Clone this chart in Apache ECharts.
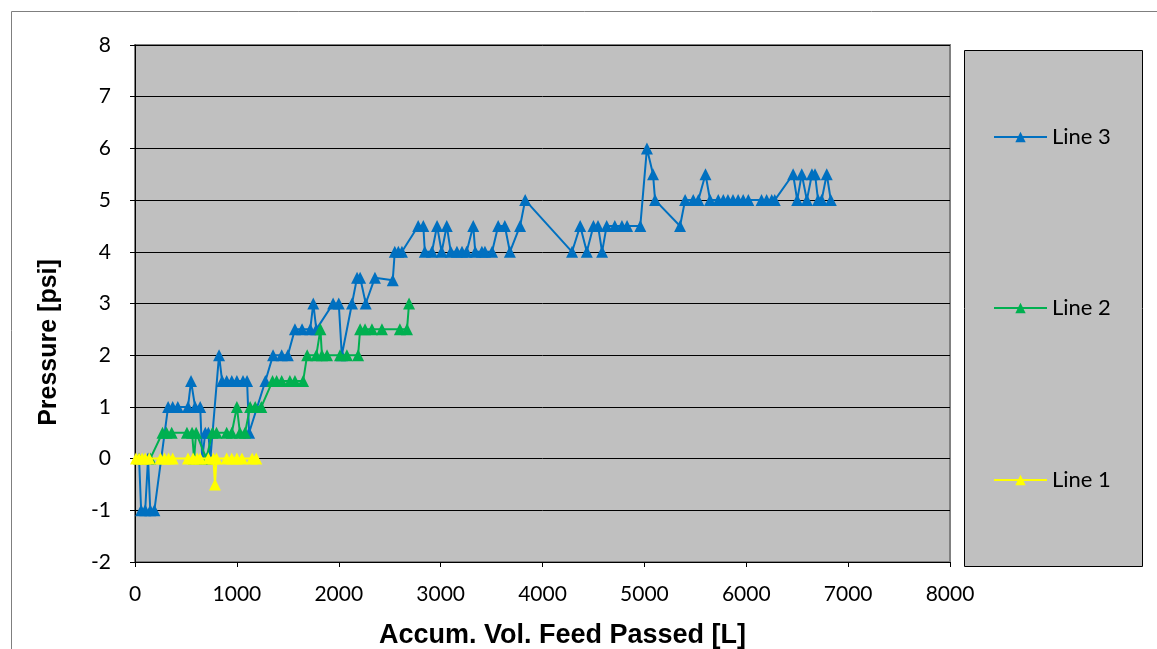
<!DOCTYPE html>
<html>
<head>
<meta charset="utf-8">
<title>Pressure vs Accumulated Feed Volume</title>
<script src="https://cdn.jsdelivr.net/npm/echarts@6/dist/echarts.min.js"></script>
<style>
  html, body { margin: 0; padding: 0; background: #ffffff; }
  #chart { width: 1157px; height: 649px; }
</style>
</head>
<body>
<div id="chart"></div>
<script>
// Axis ticks
const xTicks = [0, 1000, 2000, 3000, 4000, 5000, 6000, 7000, 8000];
const yTicks = [-2, -1, 0, 1, 2, 3, 4, 5, 6, 7, 8];

const seriesNames = ['Line 3', 'Line 2', 'Line 1'];

// Line 3: [accumulated volume L, pressure psi]
const line3 = [
  [40, 0], [60, -1], [100, -1], [128, 0], [150, -1], [190, -1],
  [325, 1], [370, 1], [420, 1], [520, 1], [550, 1.5], [590, 1], [640, 1],
  [660, 0], [690, 0.5], [720, 0.5], [740, 0], [825, 2], [855, 1.5],
  [900, 1.5], [950, 1.5], [1000, 1.5], [1060, 1.5], [1100, 1.5], [1120, 0.5],
  [1280, 1.5], [1355, 2], [1440, 2], [1500, 2], [1570, 2.5], [1640, 2.5],
  [1720, 2.5], [1750, 3], [1780, 2.5], [1945, 3], [2000, 3], [2030, 2],
  [2130, 3], [2180, 3.5], [2210, 3.5], [2265, 3], [2355, 3.5], [2530, 3.45],
  [2550, 4], [2585, 4], [2620, 4], [2780, 4.5], [2830, 4.5], [2845, 4],
  [2915, 4], [2965, 4.5], [3010, 4], [3060, 4.5], [3100, 4], [3160, 4],
  [3210, 4], [3255, 4], [3320, 4.5], [3340, 4], [3405, 4], [3435, 4],
  [3505, 4], [3565, 4.5], [3630, 4.5], [3680, 4], [3780, 4.5], [3830, 5],
  [4290, 4], [4370, 4.5], [4435, 4], [4500, 4.5], [4545, 4.5], [4585, 4],
  [4630, 4.5], [4710, 4.5], [4780, 4.5], [4830, 4.5], [4960, 4.5], [5025, 6],
  [5085, 5.5], [5105, 5], [5350, 4.5], [5400, 5], [5480, 5], [5530, 5],
  [5600, 5.5], [5645, 5], [5725, 5], [5775, 5], [5820, 5], [5870, 5],
  [5920, 5], [5970, 5], [6020, 5], [6150, 5], [6200, 5], [6250, 5],
  [6280, 5], [6460, 5.5], [6500, 5], [6545, 5.5], [6595, 5], [6645, 5.5],
  [6675, 5.5], [6705, 5], [6740, 5], [6790, 5.5], [6830, 5]
];

// Line 2
const line2 = [
  [150, 0], [270, 0.5], [310, 0.5], [360, 0.5], [510, 0.5], [560, 0.5],
  [580, 0], [600, 0.5], [700, 0], [760, 0.5], [800, 0.5], [900, 0.5],
  [950, 0.5], [1000, 1], [1030, 0.5], [1080, 0.5], [1130, 1], [1180, 1],
  [1240, 1], [1350, 1.5], [1390, 1.5], [1440, 1.5], [1520, 1.5], [1570, 1.5],
  [1650, 1.5], [1690, 2], [1780, 2], [1820, 2.5], [1835, 2], [1885, 2],
  [2012, 2], [2080, 2], [2190, 2], [2210, 2.5], [2258, 2.5], [2326, 2.5],
  [2424, 2.5], [2600, 2.5], [2670, 2.5], [2690, 3]
];

// Line 1
const line1 = [
  [10, 0], [40, 0], [70, 0], [100, 0], [140, 0], [250, 0], [290, 0],
  [330, 0], [370, 0], [520, 0], [570, 0], [610, 0], [640, 0], [720, 0],
  [770, 0], [785, -0.5], [800, 0], [900, 0], [950, 0], [1000, 0],
  [1050, 0], [1150, 0], [1190, 0]
];

const colors = { 'Line 3': '#0070c0', 'Line 2': '#00b050', 'Line 1': '#ffff00' };
const dataByName = { 'Line 3': line3, 'Line 2': line2, 'Line 1': line1 };

const tickFont = 'Lato, "DejaVu Sans", sans-serif';
const titleFont = '"Liberation Sans", Arial, sans-serif';

const chart = echarts.init(document.getElementById('chart'), null, { renderer: 'canvas' });

// vertical centre of each legend entry inside the legend box
const legendCenters = [137, 308, 480];

const option = {
  animation: false,
  backgroundColor: '#ffffff',
  grid: {
    left: 135, top: 45, right: 207, bottom: 87,
    outerBoundsMode: 'none',
    show: true,
    backgroundColor: '#c0c0c0',
    borderColor: '#808080',
    borderWidth: 2
  },
  graphic: [
    // outer chart frame
    { type: 'rect', left: 9, top: 9, z: -10, silent: true,
      shape: { x: 0, y: 0, width: 1170, height: 700 },
      style: { fill: 'none', stroke: '#7f7f7f', lineWidth: 1 } },
    // legend box
    { type: 'rect', z: 0, silent: true,
      shape: { x: 964.5, y: 50.5, width: 178, height: 516 },
      style: { fill: '#c0c0c0', stroke: '#000000', lineWidth: 1 } }
  ],
  legend: seriesNames.map((name, i) => ({
    data: [name],
    left: 988,
    top: legendCenters[i] - 17,
    itemWidth: 53,
    itemHeight: 13,
    itemGap: 5,
    textStyle: { fontFamily: tickFont, fontSize: 22, color: '#000', lineHeight: 24 },
    selectedMode: false,
    z: 5
  })),
  xAxis: {
    type: 'value',
    min: 0, max: 8000, interval: 1000,
    name: 'Accum. Vol. Feed Passed [L]',
    nameLocation: 'middle',
    nameGap: 60,
    nameTextStyle: {
      fontFamily: titleFont, fontWeight: 'bold', fontSize: 27, color: '#000',
      padding: [0, 0, 0, 40]
    },
    axisLine: { show: true, onZero: false, lineStyle: { color: '#000', width: 1 } },
    axisTick: { show: true, inside: false, length: 5, lineStyle: { color: '#000' } },
    axisLabel: {
      margin: 22, fontFamily: tickFont, fontSize: 21, color: '#000',
      formatter: v => xTicks.includes(v) ? String(v) : ''
    },
    splitLine: { show: false }
  },
  yAxis: {
    type: 'value',
    min: -2, max: 8, interval: 1,
    name: 'Pressure [psi]',
    nameLocation: 'middle',
    nameGap: 73,
    nameRotate: 90,
    nameTextStyle: {
      fontFamily: titleFont, fontWeight: 'bold', fontSize: 25, color: '#000',
      padding: [0, 78, 0, 0]
    },
    axisLine: { show: true, onZero: false, lineStyle: { color: '#000', width: 1 } },
    axisTick: { show: true, inside: false, length: 5, lineStyle: { color: '#000' } },
    axisLabel: {
      margin: 24, fontFamily: tickFont, fontSize: 21, color: '#000',
      formatter: v => yTicks.includes(v) ? String(v) : ''
    },
    splitLine: { show: true, lineStyle: { color: '#000', width: 1 } }
  },
  series: seriesNames.map((name, i) => ({
    name: name,
    type: 'line',
    data: dataByName[name],
    symbol: 'triangle',
    symbolSize: 12,
    showAllSymbol: true,
    color: colors[name],
    lineStyle: { color: colors[name], width: 2 },
    itemStyle: { color: colors[name] },
    z: 2 + i
  }))
};

chart.setOption(option);
</script>
</body>
</html>
